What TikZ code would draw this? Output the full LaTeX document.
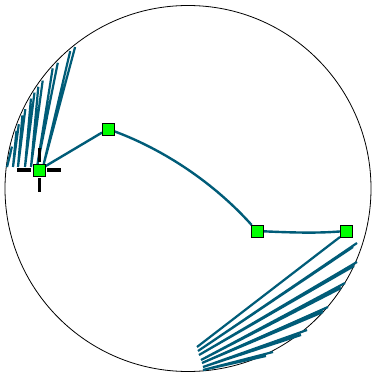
\documentclass[tikz,border=0pt]{standalone}
\usetikzlibrary{calc,backgrounds}
\definecolor{teal1}{RGB}{0,92,120}
\definecolor{lime1}{RGB}{0,255,0}
\tikzset{
  wire/.style={draw=teal1, line width=2.4pt},
  fan/.style={draw=teal1, line width=2.2pt},
  handle/.style={draw=black, fill=lime1, line width=0.6pt, minimum size=12pt, inner sep=0pt, outer sep=0pt, rectangle},
  cross/.style={draw=black, line width=3pt}
}
\begin{document}
\begin{tikzpicture}[x=1pt,y=-1pt]
\useasboundingbox (0,0) rectangle (373,379);
\coordinate (C) at (188,188.5);
% crosshair
\draw[cross] (17,170) -- (31,170);
\draw[cross] (47,170) -- (61,170);
\draw[cross] (39,148) -- (39,162);
\draw[cross] (39,178) -- (39,192);
% handles
\node[handle] (p1) at (39,170) {};
\node[handle] (p2) at (108,129) {};
\node[handle] (p3) at (257,231) {};
\node[handle] (p4) at (346,231) {};
\begin{scope}[on background layer]
\draw[black, line width=0.8pt] (C) circle (183);
% left fan
\foreach \bx/\a/\b in {7/191.4/193.4, 13/198.6/200.8, 18/203.8/206.0, 25/209.8/212.0, 31/214.2/216.6, 37/221.6/224.0, 43/229.4/231.4}{
  \draw[fan] ($(C)+(\a:181)$) -- (\bx,167) -- ($(C)+(\b:181)$);
}
% right fan
\foreach \lx/\ly/\ax/\ay/\cx/\cy in {197/347/340/237/336/240, 198/351/357/243/353/247, 199/355/357/262/354/266, 201/360/345/283/341/288, 202/363/328/307/323/312, 203/367/307/330/301/335, 203/370/273/352/266/356}{
  \draw[fan] (\ax,\ay) -- (\lx,\ly) -- (\cx,\cy);
}
\draw[wire] (p1) -- (p2);
\draw[wire] (p2) .. controls (165,150) and (215,184) .. (p3);
\draw[wire] (p3) .. controls (300,233) and (320,233) .. (p4);
\end{scope}
\end{tikzpicture}
\end{document}
